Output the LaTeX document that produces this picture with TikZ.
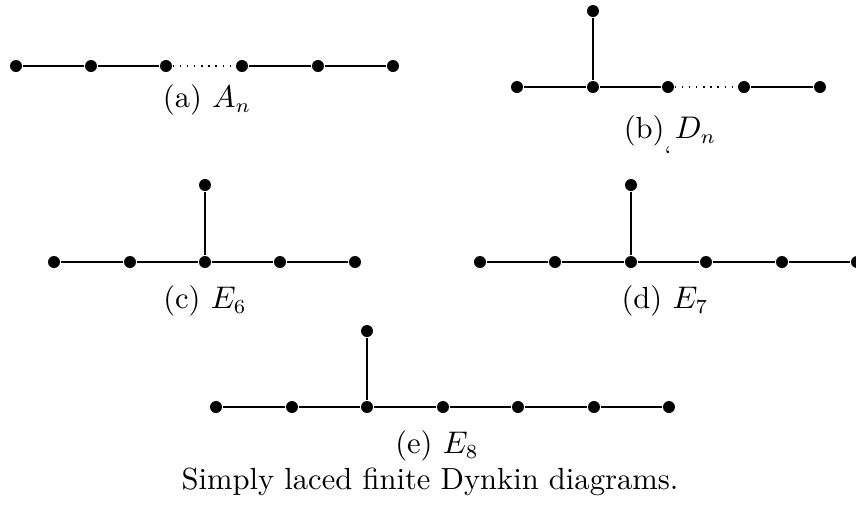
\documentclass[tikz,border=0pt]{standalone}
\begin{document}
\begin{tikzpicture}[x=0.35pt,y=-0.35pt,
  dot/.style={circle,fill=black,inner sep=0pt,minimum size=4.2pt},
  edge/.style={line width=0.5pt},
  dotline/.style={line width=0.5pt,dash pattern=on 0.5pt off 2pt},
  lab/.style={inner sep=0pt,font=\fontsize{10.7}{13}\selectfont}]
\useasboundingbox (0,0) rectangle (856,508);
\clip (0,0) rectangle (856,508);
% (a) A_n
\foreach \i/\x in {1/16,2/91,3/166,4/242,5/318,6/393}
  \node[dot] (a\i) at (\x,66) {};
\draw[edge] (a1) -- (a2) -- (a3);
\draw[dotline] (a3) -- (a4);
\draw[edge] (a4) -- (a5) -- (a6);
\node[lab] (la) at (207,100) {(a) $A_n$};
% (b) D_n
\node[dot] (bt) at (593,11) {};
\foreach \i/\x in {1/517,2/593,3/668,4/744,5/820}
  \node[dot] (b\i) at (\x,87) {};
\draw[edge] (bt) -- (b2);
\draw[edge] (b1) -- (b2) -- (b3);
\draw[dotline] (b3) -- (b4);
\draw[edge] (b4) -- (b5);
\node[lab] (lb) at (670,131) {(b) $D_n$};
\node[inner sep=0pt,font=\footnotesize,anchor=north] (lbq) at (668,146) {`};
% (c) E_6
\node[dot] (ct) at (205,185) {};
\foreach \i/\x in {1/54,2/130,3/205,4/280,5/355}
  \node[dot] (c\i) at (\x,262) {};
\draw[edge] (ct) -- (c3);
\draw[edge] (c1) -- (c2) -- (c3) -- (c4) -- (c5);
\node[lab] (lc) at (205,301) {(c) $E_6$};
% (d) E_7
\node[dot] (dt) at (631,185) {};
\foreach \i/\x in {1/480,2/555,3/631,4/706,5/782,6/857}
  \node[dot] (d\i) at (\x,262) {};
\draw[edge] (dt) -- (d3);
\draw[edge] (d1) -- (d2) -- (d3) -- (d4) -- (d5) -- (d6);
\node[lab] (ld) at (665,301) {(d) $E_7$};
% (e) E_8
\node[dot] (et) at (367,331) {};
\foreach \i/\x in {1/216,2/292,3/367,4/443,5/518,6/594,7/669}
  \node[dot] (e\i) at (\x,407) {};
\draw[edge] (et) -- (e3);
\draw[edge] (e1) -- (e2) -- (e3) -- (e4) -- (e5) -- (e6) -- (e7);
\node[lab] (le) at (437,446) {(e) $E_8$};
\node[lab] (cap) at (430,482) {Simply laced finite Dynkin diagrams.};
\end{tikzpicture}
\end{document}
